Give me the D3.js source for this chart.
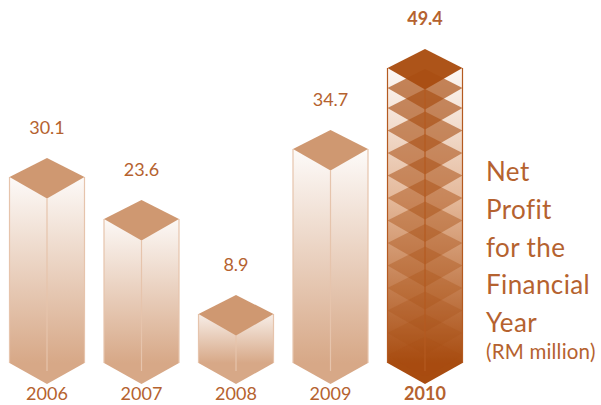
<!DOCTYPE html>
<html>
<head>
<meta charset="utf-8">
<script src="https://cdn.jsdelivr.net/npm/d3@7/dist/d3.min.js"></script>
<style>
html,body{margin:0;padding:0;background:#fff}
svg{display:block}
text{font-family:Lato,sans-serif;fill:#b5622f}
</style>
</head>
<body>
<svg id="chart" width="601" height="405"></svg>
<script>
const years = ["2006","2007","2008","2009","2010"];
const profit = [30.1,23.6,8.9,34.7,49.4];
const highlightYear = "2010";
const captionLines = ["Net","Profit","for the","Financial","Year"];
const captionUnit = "(RM million)";

const svg = d3.select("#chart");
const defs = svg.append("defs");

const baseY = 363, halfW = 37.5, riseUp = 19, riseDown = 21.5;

const x = d3.scalePoint().domain(years).range([47,425]);
// Column tops follow the printed graphic, which bends slightly between these stops
const y = d3.scaleLinear().domain([8.9,30.1,34.7,49.4]).range([314,177,149,68]);

const tone = yr => yr === highlightYear
  ? {base:"#a84c10",top:"#ad5419",line:"#b45a20"}
  : {base:"#d7a887",top:"#cf9871",line:"#e6c4ac"};

const poly = pts => pts.map(p => p.join(",")).join(" ");
const diamond = (cx,cy) => poly([[cx,cy-riseUp],[cx+halfW,cy],[cx,cy+riseDown],[cx-halfW,cy]]);

years.forEach((yr,i) => {
  const v = profit[i], cx = x(yr), sy = y(v), t = tone(yr);
  const strong = yr === highlightYear;
  const g = svg.append("g");

  const grad = defs.append("linearGradient").attr("id","fade"+yr)
    .attr("gradientUnits","userSpaceOnUse")
    .attr("x1",0).attr("x2",0).attr("y1",sy-12).attr("y2",baseY);
  grad.append("stop").attr("offset",0).attr("stop-color","#ffffff");
  if (strong) grad.append("stop").attr("offset",0.47).attr("stop-color","#e4b899");
  grad.append("stop").attr("offset",1).attr("stop-color",t.base);

  // Column body with its pointed foot
  g.append("polygon")
    .attr("points",poly([[cx-halfW,sy],[cx+halfW,sy],[cx+halfW,baseY],[cx-halfW,baseY]]))
    .attr("fill",`url(#fade${yr})`);
  g.append("polygon")
    .attr("points",poly([[cx-halfW,baseY],[cx+halfW,baseY],[cx,baseY+21]]))
    .attr("fill",t.base);

  // Cap, drawn first on the highlighted year so the layers tint it from below
  const cap = g.append("polygon").attr("points",diamond(cx,sy)).attr("fill",t.top);

  // Stacked translucent layers on the highlighted year
  if (strong) {
    const layerY = [sy+20].concat(d3.range(sy+40,baseY,22.5));
    const alpha = d3.scaleLinear().domain([sy,baseY]).range([0.72,0.16]);
    layerY.forEach(ly => {
      g.append("polygon").attr("points",diamond(cx,ly))
        .attr("fill","#a84e12").attr("fill-opacity",alpha(ly));
    });
  }

  // Edges
  [[cx-halfW,sy,cx-halfW,baseY],[cx+halfW,sy,cx+halfW,baseY],[cx,sy+riseDown,cx,baseY+8]].forEach(l => {
    g.append("line").attr("x1",l[0]).attr("y1",l[1]).attr("x2",l[2]).attr("y2",l[3])
      .attr("stroke",t.line).attr("stroke-width",1.2);
  });
  if (!strong) cap.raise();

  svg.append("text").attr("x",cx).attr("y",sy-riseUp-24)
    .attr("text-anchor","middle").attr("font-size",18)
    .attr("font-weight",strong?700:400).text(v.toFixed(1));
  svg.append("text").attr("x",cx).attr("y",400)
    .attr("text-anchor","middle").attr("font-size",18)
    .attr("font-weight",strong?700:400).text(yr);
});

const caption = svg.append("g");
captionLines.forEach((s,i) => {
  caption.append("text").attr("x",486).attr("y",181+i*37.8)
    .attr("font-size",26).attr("letter-spacing",0.4).text(s);
});
caption.append("text").attr("x",486).attr("y",359)
  .attr("font-size",20.5).attr("letter-spacing",0.2).text(captionUnit);
</script>
</body>
</html>
